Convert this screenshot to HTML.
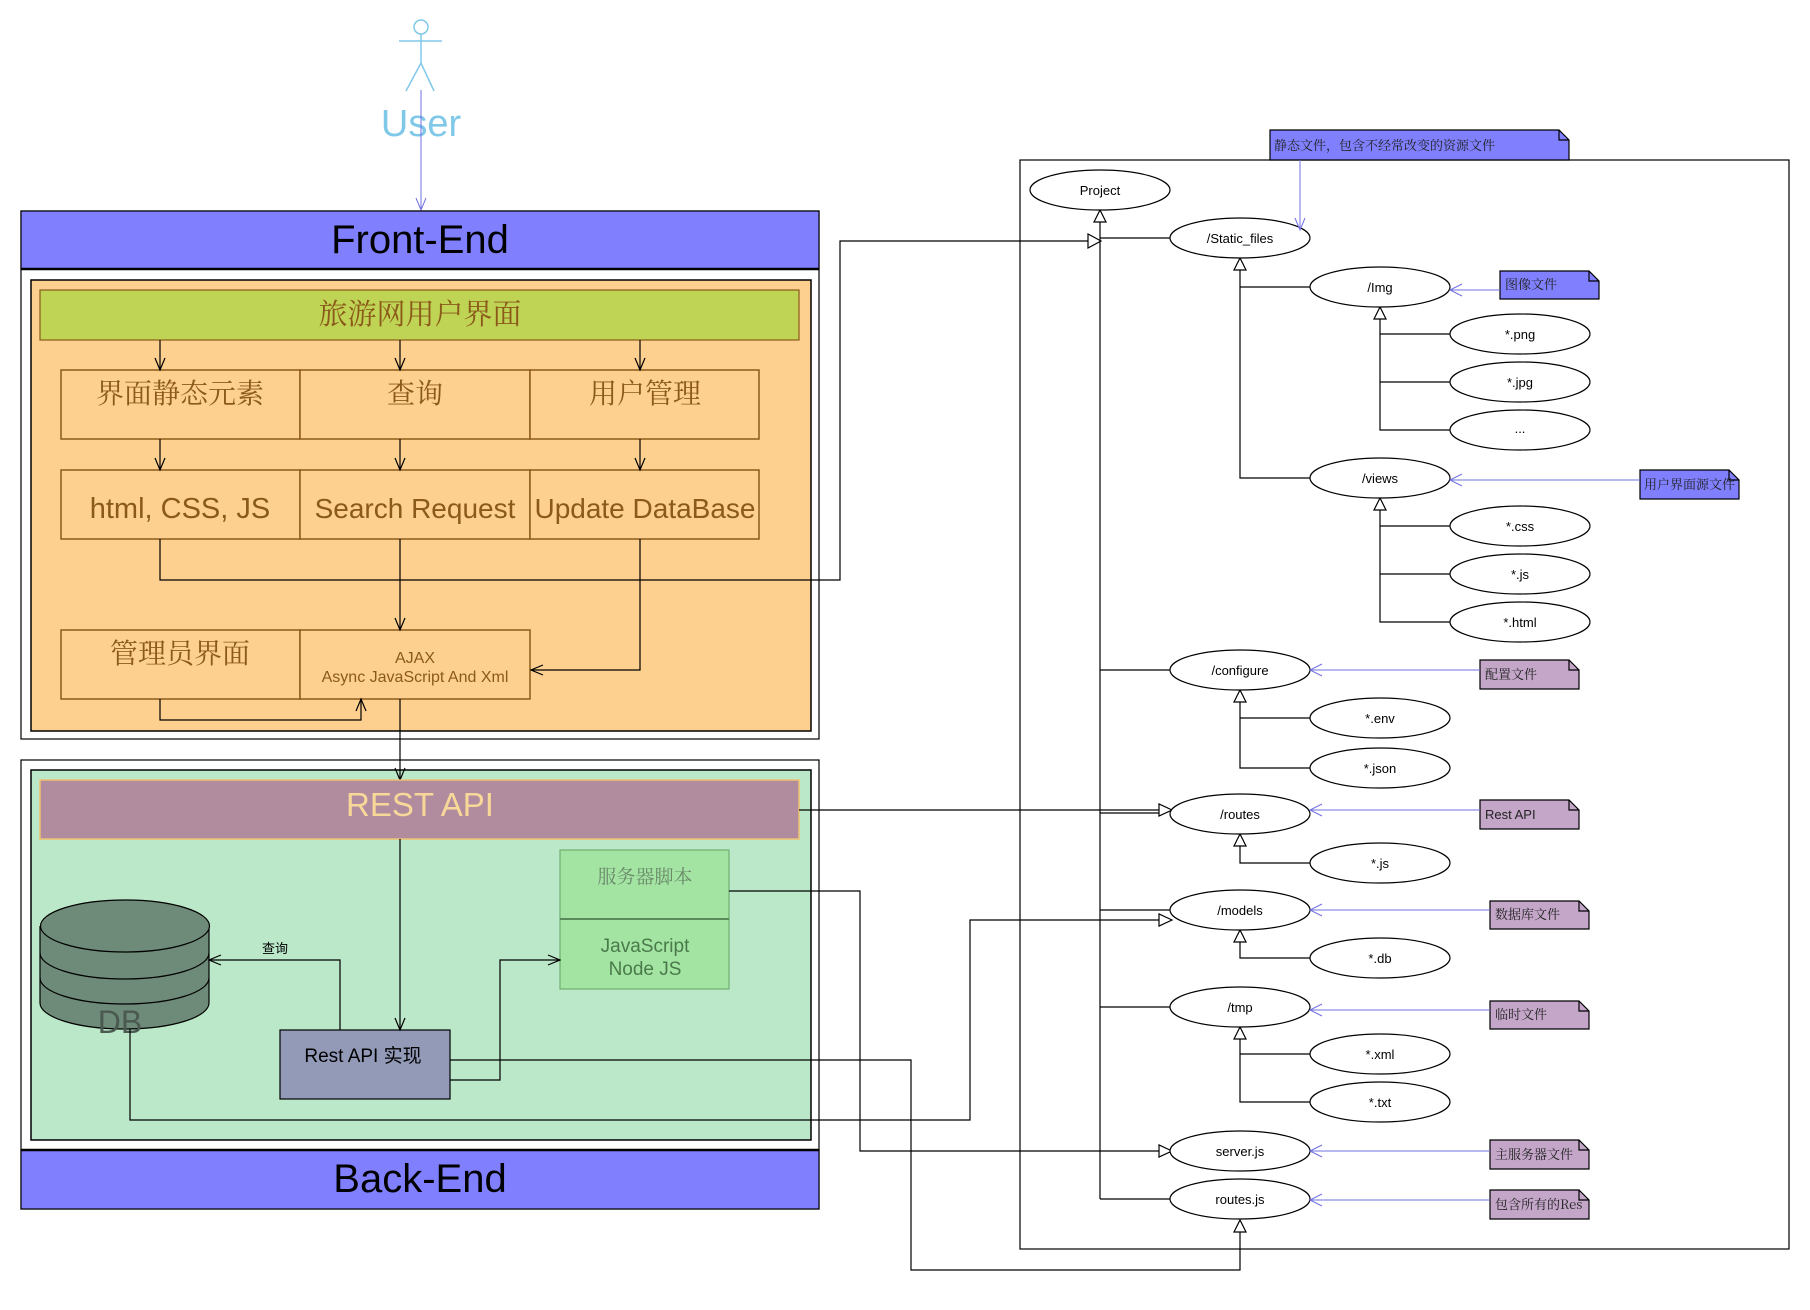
<!DOCTYPE html>
<html><head><meta charset="utf-8"><style>
html,body{margin:0;padding:0;background:#fff;width:1810px;height:1310px;overflow:hidden}
svg{display:block}
text{font-family:"Liberation Sans","Noto Sans CJK SC",sans-serif}
.cj{font-family:"Noto Serif CJK SC","Liberation Serif",serif}
</style></head><body>
<svg width="1810" height="1310" viewBox="0 0 1810 1310" xmlns="http://www.w3.org/2000/svg">
<g fill="none" stroke-width="1.2">
<g stroke="#80c8e8" stroke-width="1.5">
<ellipse cx="421" cy="27" rx="7" ry="7"/>
<line x1="399" y1="41" x2="442" y2="41"/>
<line x1="421" y1="34" x2="421" y2="63"/>
<polyline points="406,91 421,63 434,91"/>
</g>
</g>
<text x="421" y="136" font-size="38" fill="#80c8e8" text-anchor="middle">User</text>
<g stroke="#7070e0" fill="none" stroke-width="1"><line x1="421" y1="90" x2="421" y2="210"/><polyline points="416,198 421,210 426,198"/></g>

<rect x="21" y="211" width="798" height="528" fill="#fff" stroke="#000" stroke-width="1.2"/>
<rect x="21" y="211" width="798" height="58" fill="#8080ff" stroke="#000" stroke-width="1.2"/>
<line x1="21" y1="269" x2="819" y2="269" stroke="#000" stroke-width="2.5"/>
<text x="420" y="253" font-size="40" text-anchor="middle" fill="#000">Front-End</text>
<rect x="31" y="280" width="780" height="451" fill="#fdd08f" stroke="#000" stroke-width="1.5"/>
<rect x="40" y="290" width="759" height="50" fill="#bfd354" stroke="#8b5a1a" stroke-width="1.2"/>
<text x="420" y="324" font-size="29" class="cj" text-anchor="middle" fill="#8b5a1a">旅游网用户界面</text>
<g fill="#fdd08f" stroke="#8b5a1a" stroke-width="1.5">
<rect x="61" y="370" width="239" height="69"/><rect x="300" y="370" width="230" height="69"/><rect x="530" y="370" width="229" height="69"/>
<rect x="61" y="470" width="239" height="69"/><rect x="300" y="470" width="230" height="69"/><rect x="530" y="470" width="229" height="69"/>
<rect x="61" y="630" width="239" height="69"/><rect x="300" y="630" width="230" height="69"/>
</g>
<g fill="#8b5a1a" text-anchor="middle">
<text x="180" y="403" font-size="28" class="cj">界面静态元素</text>
<text x="415" y="403" font-size="28" class="cj">查询</text>
<text x="645" y="403" font-size="28" class="cj">用户管理</text>
<text x="180" y="518" font-size="29">html, CSS, JS</text>
<text x="415" y="518" font-size="28">Search Request</text>
<text x="645" y="518" font-size="28">Update DataBase</text>
<text x="180" y="663" font-size="28" class="cj">管理员界面</text>
<text x="415" y="663" font-size="16">AJAX</text>
<text x="415" y="682" font-size="16">Async JavaScript And Xml</text>
</g>
<g stroke="#000" fill="none" stroke-width="1.2">
<line x1="160" y1="340" x2="160" y2="370"/><polyline points="155,358 160,370 165,358"/>
<line x1="400" y1="340" x2="400" y2="370"/><polyline points="395,358 400,370 405,358"/>
<line x1="640" y1="340" x2="640" y2="370"/><polyline points="635,358 640,370 645,358"/>
<line x1="160" y1="439" x2="160" y2="470"/><polyline points="155,458 160,470 165,458"/>
<line x1="400" y1="439" x2="400" y2="470"/><polyline points="395,458 400,470 405,458"/>
<line x1="640" y1="439" x2="640" y2="470"/><polyline points="635,458 640,470 645,458"/>
<polyline points="160,539 160,580 840,580 840,241 1088,241"/>
<polygon points="1101,241 1088,234 1088,248" fill="#fff"/>
<line x1="400" y1="539" x2="400" y2="630"/><polyline points="395,618 400,630 405,618"/>
<polyline points="640,539 640,670 531,670"/><polyline points="543,665 531,670 543,675"/>
<polyline points="160,699 160,720 361,720 361,699"/><polyline points="356,711 361,699 366,711"/>
</g>

<rect x="21" y="760" width="798" height="449" fill="#fff" stroke="#000" stroke-width="1.2"/>
<rect x="31" y="770" width="780" height="370" fill="#bbe8c8" stroke="#000" stroke-width="1.5"/>
<rect x="21" y="1150" width="798" height="59" fill="#8080ff" stroke="#000" stroke-width="1.2"/>
<line x1="21" y1="1150" x2="819" y2="1150" stroke="#000" stroke-width="2.5"/>
<text x="420" y="1192" font-size="40" text-anchor="middle" fill="#000">Back-End</text>
<g stroke="#000" fill="none" stroke-width="1.2">
<line x1="400" y1="699" x2="400" y2="780"/><polyline points="395,768 400,780 405,768"/>
</g>
<rect x="40" y="780" width="759" height="59" fill="#b08c9e" stroke="#f0c070" stroke-width="1.5"/>
<text x="420" y="816" font-size="33" text-anchor="middle" fill="#f8d898">REST API</text>
<rect x="560" y="850" width="169" height="69" fill="#a3e4a3" stroke="#6fb06f" stroke-width="1.2"/>
<rect x="560" y="919" width="169" height="70" fill="#a3e4a3" stroke="#6fb06f" stroke-width="1.2"/>
<line x1="560" y1="919" x2="729" y2="919" stroke="#5a8a5a" stroke-width="2"/>
<text x="645" y="883" font-size="19" class="cj" text-anchor="middle" fill="#6a8a6a">服务器脚本</text>
<text x="645" y="952" font-size="19" text-anchor="middle" fill="#4a7a4a">JavaScript</text>
<text x="645" y="975" font-size="19" text-anchor="middle" fill="#4a7a4a">Node JS</text>
<g stroke="#000" stroke-width="1.2" fill="#6e8a78">
<path d="M40,926 L40,1003 A84.5,26 0 0 0 209,1003 L209,926"/>
<ellipse cx="125" cy="926" rx="84.5" ry="26"/>
<path d="M40,953 A84.5,26 0 0 0 209,953" fill="none"/>
<path d="M40,978 A84.5,26 0 0 0 209,978" fill="none"/>
</g>
<text x="120" y="1033" font-size="32" text-anchor="middle" fill="#4a5a50">DB</text>
<rect x="280" y="1030" width="170" height="69" fill="#939ab8" stroke="#000" stroke-width="1.2"/>
<text x="363" y="1062" font-size="19" text-anchor="middle" fill="#000">Rest API 实现</text>
<text x="275" y="953" font-size="13" text-anchor="middle" fill="#000">查询</text>
<g stroke="#000" fill="none" stroke-width="1.2">
<line x1="400" y1="839" x2="400" y2="1030"/><polyline points="395,1018 400,1030 405,1018"/>
<polyline points="340,1030 340,960 209,960"/><polyline points="221,955 209,960 221,965"/>
<polyline points="450,1080 500,1080 500,960 560,960"/><polyline points="548,955 560,960 548,965"/>
<polyline points="799,810 1159,810"/>
<polyline points="729,891 860,891 860,1151 1159,1151"/>
<polyline points="450,1060 911,1060 911,1270 1240,1270 1240,1232"/>
<polyline points="130,1029 130,1120 970,1120 970,920 1159,920"/>
</g>

<rect x="1020" y="160" width="769" height="1089" fill="none" stroke="#000" stroke-width="1.2"/>
<g stroke="#000" fill="none" stroke-width="1.2">
<line x1="1100" y1="222" x2="1100" y2="1199"/>
<polyline points="1100,238 1170,238"/><polyline points="1100,670 1170,670"/><polyline points="1100,813 1159,813"/>
<polyline points="1100,910 1170,910"/><polyline points="1100,1007 1170,1007"/><polyline points="1100,1199 1170,1199"/>
<polyline points="1240,270 1240,478 1310,478"/><line x1="1240" y1="287" x2="1310" y2="287"/>
<polyline points="1380,319 1380,430 1450,430"/><line x1="1380" y1="334" x2="1450" y2="334"/><line x1="1380" y1="382" x2="1450" y2="382"/>
<polyline points="1380,510 1380,622 1450,622"/><line x1="1380" y1="526" x2="1450" y2="526"/><line x1="1380" y1="574" x2="1450" y2="574"/>
<polyline points="1240,702 1240,768 1310,768"/><line x1="1240" y1="718" x2="1310" y2="718"/>
<polyline points="1240,846 1240,863 1310,863"/>
<polyline points="1240,942 1240,958 1310,958"/>
<polyline points="1240,1039 1240,1102 1310,1102"/><line x1="1240" y1="1054" x2="1310" y2="1054"/>
</g>
<g stroke="#000" fill="#fff" stroke-width="1.2">
<polygon points="1100,210 1094,222 1106,222"/>
<polygon points="1240,258 1234,270 1246,270"/>
<polygon points="1380,307 1374,319 1386,319"/>
<polygon points="1380,498 1374,510 1386,510"/>
<polygon points="1240,690 1234,702 1246,702"/>
<polygon points="1240,834 1234,846 1246,846"/>
<polygon points="1240,930 1234,942 1246,942"/>
<polygon points="1240,1027 1234,1039 1246,1039"/>
<polygon points="1240,1220 1234,1232 1246,1232"/>
<polygon points="1172,810 1159,804 1159,816"/>
<polygon points="1172,920 1159,914 1159,926"/>
<polygon points="1172,1151 1159,1145 1159,1157"/>
</g>
<g stroke="#000" fill="#fff" stroke-width="1.2">
<ellipse cx="1100" cy="190" rx="70" ry="20"/>
<ellipse cx="1240" cy="238" rx="70" ry="20"/>
<ellipse cx="1380" cy="287" rx="70" ry="20"/>
<ellipse cx="1520" cy="334" rx="70" ry="20"/>
<ellipse cx="1520" cy="382" rx="70" ry="20"/>
<ellipse cx="1520" cy="430" rx="70" ry="20"/>
<ellipse cx="1380" cy="478" rx="70" ry="20"/>
<ellipse cx="1520" cy="526" rx="70" ry="20"/>
<ellipse cx="1520" cy="574" rx="70" ry="20"/>
<ellipse cx="1520" cy="622" rx="70" ry="20"/>
<ellipse cx="1240" cy="670" rx="70" ry="20"/>
<ellipse cx="1380" cy="718" rx="70" ry="20"/>
<ellipse cx="1380" cy="768" rx="70" ry="20"/>
<ellipse cx="1240" cy="814" rx="70" ry="20"/>
<ellipse cx="1380" cy="863" rx="70" ry="20"/>
<ellipse cx="1240" cy="910" rx="70" ry="20"/>
<ellipse cx="1380" cy="958" rx="70" ry="20"/>
<ellipse cx="1240" cy="1007" rx="70" ry="20"/>
<ellipse cx="1380" cy="1054" rx="70" ry="20"/>
<ellipse cx="1380" cy="1102" rx="70" ry="20"/>
<ellipse cx="1240" cy="1151" rx="70" ry="20"/>
<ellipse cx="1240" cy="1199" rx="70" ry="20"/>
</g>
<g font-size="13" text-anchor="middle" fill="#000">
<text x="1100" y="195">Project</text>
<text x="1240" y="243">/Static_files</text>
<text x="1380" y="292">/Img</text>
<text x="1520" y="339">*.png</text>
<text x="1520" y="387">*.jpg</text>
<text x="1520" y="433">...</text>
<text x="1380" y="483">/views</text>
<text x="1520" y="531">*.css</text>
<text x="1520" y="579">*.js</text>
<text x="1520" y="627">*.html</text>
<text x="1240" y="675">/configure</text>
<text x="1380" y="723">*.env</text>
<text x="1380" y="773">*.json</text>
<text x="1240" y="819">/routes</text>
<text x="1380" y="868">*.js</text>
<text x="1240" y="915">/models</text>
<text x="1380" y="963">*.db</text>
<text x="1240" y="1012">/tmp</text>
<text x="1380" y="1059">*.xml</text>
<text x="1380" y="1107">*.txt</text>
<text x="1240" y="1156">server.js</text>
<text x="1240" y="1204">routes.js</text>
</g>
<g stroke="#000" stroke-width="1.2">
<path d="M1270,130 H1559 L1569,140 V160 H1270 Z" fill="#8080ff"/><path d="M1559,130 V140 H1569" fill="none"/>
<path d="M1500,271 H1589 L1599,281 V299 H1500 Z" fill="#8080ff"/><path d="M1589,271 V281 H1599" fill="none"/>
<path d="M1640,470 H1729 L1739,480 V499 H1640 Z" fill="#8080ff"/><path d="M1729,470 V480 H1739" fill="none"/>
<path d="M1480,660 H1569 L1579,670 V689 H1480 Z" fill="#c3a6c8"/><path d="M1569,660 V670 H1579" fill="none"/>
<path d="M1480,800 H1569 L1579,810 V829 H1480 Z" fill="#c3a6c8"/><path d="M1569,800 V810 H1579" fill="none"/>
<path d="M1490,901 H1579 L1589,911 V929 H1490 Z" fill="#c3a6c8"/><path d="M1579,901 V911 H1589" fill="none"/>
<path d="M1490,1001 H1579 L1589,1011 V1029 H1490 Z" fill="#c3a6c8"/><path d="M1579,1001 V1011 H1589" fill="none"/>
<path d="M1490,1140 H1579 L1589,1150 V1169 H1490 Z" fill="#c3a6c8"/><path d="M1579,1140 V1150 H1589" fill="none"/>
<path d="M1490,1190 H1579 L1589,1200 V1219 H1490 Z" fill="#c3a6c8"/><path d="M1579,1190 V1200 H1589" fill="none"/>
</g>
<g font-size="13" fill="#222" class="cj">
<text x="1274" y="150" class="cj">静态文件，包含不经常改变的资源文件</text>
<text x="1505" y="289" class="cj">图像文件</text>
<text x="1644" y="489" class="cj">用户界面源文件</text>
<text x="1485" y="679" class="cj">配置文件</text>
<text x="1485" y="819" font-family="Liberation Sans,sans-serif">Rest API</text>
<text x="1495" y="919" class="cj">数据库文件</text>
<text x="1495" y="1019" class="cj">临时文件</text>
<text x="1495" y="1159" class="cj">主服务器文件</text>
<text x="1495" y="1209" class="cj">包含所有的Res</text>
</g>
<g stroke="#7070e0" fill="none" stroke-width="1">
<polyline points="1300,160 1300,230"/><polyline points="1295,218 1300,230 1305,218"/>
<line x1="1500" y1="290" x2="1450" y2="290"/><polyline points="1462,284 1450,290 1462,296"/>
<line x1="1640" y1="480" x2="1450" y2="480"/><polyline points="1462,474 1450,480 1462,486"/>
<line x1="1480" y1="670" x2="1310" y2="670"/><polyline points="1322,664 1310,670 1322,676"/>
<line x1="1480" y1="810" x2="1310" y2="810"/><polyline points="1322,804 1310,810 1322,816"/>
<line x1="1490" y1="910" x2="1310" y2="910"/><polyline points="1322,904 1310,910 1322,916"/>
<line x1="1490" y1="1010" x2="1310" y2="1010"/><polyline points="1322,1004 1310,1010 1322,1016"/>
<line x1="1490" y1="1151" x2="1310" y2="1151"/><polyline points="1322,1145 1310,1151 1322,1157"/>
<line x1="1490" y1="1200" x2="1310" y2="1200"/><polyline points="1322,1194 1310,1200 1322,1206"/>
</g>
</svg>
</body></html>
